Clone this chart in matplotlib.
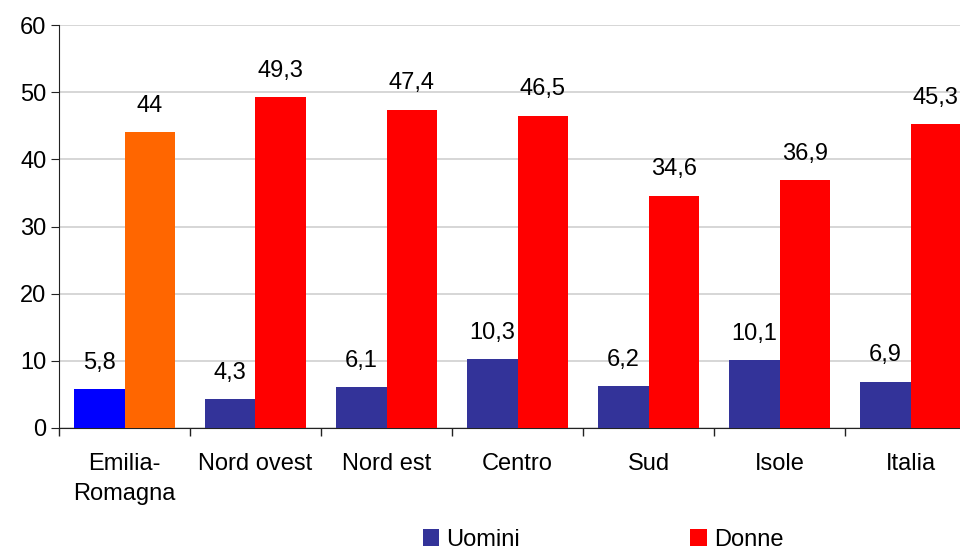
import matplotlib
matplotlib.use("Agg")
import matplotlib.pyplot as plt
from matplotlib.patches import Patch
import numpy as np

plt.rcParams['font.family'] = ['Liberation Sans', 'DejaVu Sans']

categories = ["Emilia-\nRomagna", "Nord ovest", "Nord est", "Centro", "Sud", "Isole", "Italia"]
uomini = [5.8, 4.3, 6.1, 10.3, 6.2, 10.1, 6.9]
donne = [44, 49.3, 47.4, 46.5, 34.6, 36.9, 45.3]
uomini_labels = ["5,8", "4,3", "6,1", "10,3", "6,2", "10,1", "6,9"]
donne_labels = ["44", "49,3", "47,4", "46,5", "34,6", "36,9", "45,3"]
series_names = ["Uomini", "Donne"]

navy = "#333399"
red = "#ff0000"
u_colors = ["#0000ff"] + [navy] * 6
d_colors = ["#ff6600"] + [red] * 6

fig = plt.figure(figsize=(9.6, 5.52), dpi=100)
ax = fig.add_axes([59/960, 124/552, 1 - 59/960, 403/552])

x = np.arange(len(categories))
w = 0.385
b1 = ax.bar(x - w/2, uomini, w, color=u_colors, zorder=3)
b2 = ax.bar(x + w/2, donne, w, color=d_colors, zorder=3)

fs = 17
for rect, lab in zip(b1, uomini_labels):
    ax.text(rect.get_x() + rect.get_width()/2, rect.get_height() + 3.9, lab,
            ha='center', va='center', fontsize=fs)
for rect, lab in zip(b2, donne_labels):
    ax.text(rect.get_x() + rect.get_width()/2, rect.get_height() + 3.9, lab,
            ha='center', va='center', fontsize=fs)

ax.set_ylim(0, 60)
ax.set_yticks(range(0, 61, 10))
ax.set_xlim(-0.5, 6.5 - 16/131)
ax.grid(axis='y', color='#d0d0d0', linewidth=1.2, zorder=0)
ax.set_axisbelow(True)

ax.set_xticks(x)
ax.set_xticklabels(categories, fontsize=fs, linespacing=1.45)
ax.tick_params(axis='x', which='major', length=0, pad=18)
ax.set_xticks(np.arange(-0.5, 6.5, 1), minor=True)
ax.tick_params(axis='x', which='minor', length=6, color='#222222', width=1)
ax.tick_params(axis='y', length=6, pad=3, labelsize=fs, color='#222222')

for s in ['top', 'right']:
    ax.spines[s].set_visible(False)
ax.spines['left'].set_color('#222222')
ax.spines['bottom'].set_color('#222222')

handles = [Patch(facecolor=navy), Patch(facecolor=red)]
fig.legend(handles, series_names, loc='center', bbox_to_anchor=(603/960, 12/552),
           ncol=2, frameon=False, fontsize=fs, handlelength=0.7, handleheight=0.7,
           handletextpad=0.3, columnspacing=7.2)

fig.savefig("out.png", dpi=100)
